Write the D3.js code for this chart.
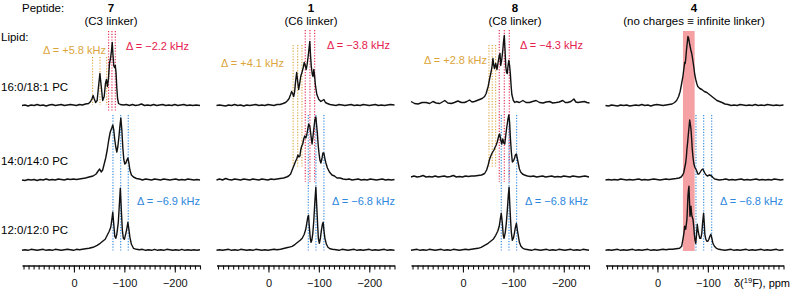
<!DOCTYPE html>
<html>
<head>
<meta charset="utf-8">
<script src="https://cdn.jsdelivr.net/npm/d3@7"></script>
<style>
  body { margin: 0; background: #fff; }
  svg { display: block; font-family: "Liberation Sans", Arial, Helvetica, sans-serif; }
  .tick line { stroke: #111; }
  .domain { stroke: #111; stroke-width: 1.6; }
</style>
</head>
<body>
<div id="chart"></div>
<script>
/* 19F NMR spectra: 4 peptides x 3 lipids */
const width = 792, height = 291;

// ---- data ----
const peptides = ["7", "1", "8", "4"];
const linkers = ["(C3 linker)", "(C6 linker)", "(C8 linker)", "(no charges \u2261 infinite linker)"];
const lipids = ["16:0/18:1 PC", "14:0/14:0 PC", "12:0/12:0 PC"];

// splittings (ppm positions of the dotted lines) and their labels
const orangeLines = [[-37, -51.6, -65], [-49, -58, -66.5], [-51.6, -58.1, -64.9], null];
const redLines = [[-68.8, -75.4, -82], [-73, -82.3, -91.7], [-72, -82, -91.9], null];
const blueLines = [[-77.4, -92.7, -107.7], [-79, -94.2, -110], [-76, -91.3, -106.5], [-76.4, -91.7, -107.6]];
const orangeDelta = ["+5.8", "+4.1", "+2.8", null];
const redDelta = ["\u22122.2", "\u22123.8", "\u22124.3", null];
const blueDelta = ["\u22126.9", "\u22126.8", "\u22126.8", "\u22126.8"];
const bandPpm = [-50.6, -73.8]; // highlighted region, peptide 4

// spectra: [ppm, intensity]
const spec7_a = [[103,0],[97,0.5],[91,-0.5],[85,0.5],[79,0],[73,1],[67,0],[61,0.5],[55,-0.5],[49,0.5],[43,1],[37,0],[31,0.5],[25,1],[19,0],[13,0.5],[7,1],[1,0.5],[-5,0],[-11,1],[-17,0.5],[-23,1.5],[-29,2],[-33,4],[-36,7],[-38,10],[-40,7],[-43,3],[-46,5],[-49,20],[-51.5,32],[-54,20],[-57,5],[-60,9],[-62.5,22],[-64.5,26],[-66.5,19],[-68.5,27],[-70.5,42],[-72.5,47],[-74.5,55],[-76,63],[-77.5,50],[-79,40],[-80.5,38],[-82,40],[-83.5,33],[-85,18],[-86.5,7],[-88.5,2],[-92,1],[-98,0.5],[-104,1],[-110,0],[-116,1],[-122,0],[-128,0.5],[-134,1.5],[-140,0],[-146,0.5],[-152,0],[-158,1],[-164,0],[-170,0.5],[-176,1],[-182,0],[-188,0.5],[-194,0],[-200,1],[-206,0],[-212,0.5],[-218,1],[-224,0],[-230,0.5],[-236,0],[-242,0.5],[-250,0]];
const spec7_b = [[103,0],[97,-0.5],[91,0.5],[85,0],[79,0.5],[73,-0.5],[67,0.5],[61,0],[55,1],[49,0],[43,0.5],[37,0],[31,1],[25,0.5],[19,0],[13,1],[7,0.5],[1,1],[-5,0.5],[-11,1],[-17,1.5],[-23,2],[-30,3],[-38,4],[-44,6],[-48,9],[-51,11],[-54,8],[-57,10],[-60,16],[-63,22],[-66,30],[-69,40],[-72,48],[-75,52],[-77,55],[-79,50],[-81,40],[-83,33],[-85,28],[-87,33],[-89,42],[-91,53],[-93,62],[-95,50],[-97,32],[-99,20],[-101,16],[-103,17],[-105,20],[-107,22],[-109,17],[-111,10],[-114,5],[-118,3],[-124,1.5],[-130,1],[-136,0],[-142,1],[-148,0.5],[-154,0],[-160,1],[-166,0.5],[-172,0],[-178,1],[-184,0.5],[-190,0],[-196,0.5],[-202,1],[-208,0],[-214,0.5],[-220,0],[-226,1],[-232,0.5],[-238,0],[-244,0.5],[-250,0]];
const spec7_c = [[103,0],[97,0.5],[91,0],[85,1],[79,0.5],[73,0],[67,0.5],[61,1],[55,0],[49,0.5],[43,0],[37,1],[31,0.5],[25,0],[19,0.5],[13,1],[7,0.5],[1,0],[-5,1],[-11,0.5],[-17,1],[-23,1.5],[-30,2],[-38,3],[-46,5],[-52,7],[-57,9],[-62,11],[-66,15],[-70,19],[-73,23],[-75,30],[-77,38],[-79,26],[-81,14],[-83,12],[-85,16],[-88,28],[-90,45],[-92,62],[-94,40],[-96,20],[-98,12],[-100,11],[-103,17],[-105,22],[-107,28],[-109,21],[-111,13],[-114,6],[-118,2],[-124,1],[-130,0.5],[-136,1],[-142,0],[-148,0.5],[-154,0],[-160,1],[-166,0],[-172,0.5],[-178,0],[-184,1],[-190,0.5],[-196,0],[-202,0.5],[-208,0],[-214,1],[-220,0],[-226,0.5],[-232,0],[-238,0.5],[-244,0],[-250,0.5]];

const spec1_a = [[103,0],[97,0.5],[91,0],[85,-0.5],[79,0.5],[73,0],[67,1],[61,0],[55,0.5],[49,-0.5],[43,0.5],[37,0],[31,0.5],[25,1],[19,0],[13,0.5],[7,0],[1,1],[-5,0.5],[-11,0],[-17,1],[-23,1],[-29,2],[-34,3],[-38,5],[-41,7],[-44,11],[-46,14],[-48,12],[-50,9],[-52,14],[-54,25],[-56,33],[-58,24],[-60,16],[-62,22],[-64,29],[-67,34],[-69,38],[-71,43],[-73,40],[-75,36],[-77,42],[-79,50],[-80.5,57],[-82,64],[-83.5,50],[-85,39],[-87,31],[-88.5,29],[-90,36],[-91.5,30],[-93,21],[-96,11],[-100,6],[-104,4],[-107,5],[-110,6],[-113,3],[-117,2],[-122,1],[-128,0.5],[-134,0],[-140,1],[-146,0.5],[-152,0],[-158,0.5],[-164,1],[-170,0],[-176,0.5],[-182,0],[-188,1],[-194,0.5],[-200,0],[-206,0.5],[-212,1],[-218,0],[-224,0.5],[-230,0],[-236,0.5],[-242,1],[-250,0.5]];
const spec1_b = [[103,0],[97,1],[91,0],[85,1.5],[79,0.5],[73,0],[67,1],[61,0.5],[55,0],[49,1],[43,0.5],[37,0],[31,1],[25,0.5],[19,0],[13,1],[7,0.5],[1,0],[-5,1],[-11,0.5],[-17,1],[-23,1.5],[-30,2],[-36,3],[-40,4],[-44,6],[-47,10],[-51,15],[-54,19],[-56,21],[-58.5,25],[-60.5,23],[-62.5,24],[-64,30],[-66,34],[-68,36],[-70,41],[-72,44],[-74,42],[-76,45],[-78,51],[-80,56],[-82,54],[-83.5,48],[-85,42],[-86.5,36],[-88,42],[-90,51],[-92,60],[-94,63],[-95.5,55],[-97,47],[-98.5,36],[-100,28],[-102,20],[-104,17],[-106,21],[-108,27],[-110,27],[-112,21],[-114,17],[-117,12],[-121,8],[-126,5],[-131,4],[-136,2],[-142,2],[-148,1],[-154,0.5],[-160,1],[-166,0],[-172,0.5],[-178,1],[-184,0],[-190,0.5],[-196,0],[-202,1],[-208,0.5],[-214,0],[-220,0.5],[-226,1],[-232,0],[-238,0.5],[-244,0],[-250,0.5]];
const spec1_c = [[103,0],[97,0.5],[91,0],[85,0.5],[79,1],[73,0],[67,0.5],[61,0],[55,1],[49,0.5],[43,0],[37,0.5],[31,0],[25,1],[19,0.5],[13,0],[7,0.5],[1,0],[-5,0.5],[-11,1],[-17,0.5],[-24,1],[-32,2],[-40,3],[-47,4],[-53,6],[-58,8],[-63,10],[-67,12],[-71,16],[-74,21],[-76,27],[-78,33],[-79.5,35],[-81,24],[-83,12],[-84.5,8],[-86,10],[-88,17],[-90,30],[-92,48],[-94,63],[-96,42],[-97.5,26],[-99,12],[-101,7],[-103,12],[-105,20],[-107,26],[-108.5,28],[-110,20],[-112,12],[-115,6],[-118,3],[-122,1.5],[-127,1],[-134,0.5],[-140,0],[-146,1],[-152,0.5],[-158,0],[-164,0.5],[-170,1],[-176,0],[-182,0.5],[-188,0],[-194,0.5],[-200,1],[-206,0],[-212,0.5],[-218,0],[-224,0.5],[-230,1],[-236,0],[-242,0.5],[-250,0]];

const spec8_a = [[103,4],[96,2],[89,1.5],[81,3],[73,3],[66,2],[59.5,4],[53,2.5],[46,2],[41,3.5],[36,5],[30,2.5],[23,2],[17,3],[10,4.5],[3,3],[-3,3],[-8,4],[-13,5.5],[-18,3.5],[-23,4],[-28,5],[-33,6],[-38,7],[-43,9],[-46,12],[-50,19],[-53,27],[-56,34],[-58,40],[-59.5,47],[-61,41],[-62.5,37],[-65,42],[-67.5,36],[-70,44],[-72,50],[-73.5,52],[-75,40],[-77,46],[-79,55],[-80.5,64],[-82,70],[-83.5,55],[-85,39],[-86.5,33],[-88,32],[-89.5,40],[-91,45],[-92.5,40],[-94,32],[-95.5,20],[-97,11],[-100,5],[-103,3],[-106,4],[-112,3],[-119,5],[-125,3],[-132,3],[-138,4],[-145,5],[-152,3],[-159,2.5],[-165,3.5],[-172,4],[-178,2.5],[-185,3],[-191,3.5],[-198,5],[-203,3],[-208,3],[-214,4],[-220,6.5],[-224,3.5],[-228,3],[-234,3.5],[-241,4],[-246,3],[-251,2.5]];
const spec8_b = [[103,3],[97,4],[91,3],[85,3.5],[79,4.5],[73,3],[67,3.5],[61,3],[55,4],[49,3],[43,3.5],[37,4],[31,3],[25,3.5],[19,4.5],[13,3],[7,3.5],[1,3],[-5,4],[-11,3.5],[-17,4],[-23,4],[-30,4.5],[-37,5],[-43,6.5],[-47,10],[-50,15],[-53,21],[-56,25],[-59,28],[-61.5,30],[-64,33],[-66,35],[-68,38],[-70,42],[-71.5,45],[-73,46],[-75,40],[-77,36],[-79,41],[-81,37],[-83,36],[-85,45],[-87,53],[-89,60],[-91,65],[-92.5,58],[-94,43],[-96,28],[-98,18],[-100,19],[-102.5,22],[-104,25],[-106,26],[-108,21],[-110,16],[-112,11],[-114.5,8],[-118,6],[-122,5],[-128,4],[-134,3.5],[-140,4],[-146,3],[-152,3.5],[-158,4],[-164,3],[-170,3.5],[-176,4],[-182,3],[-188,3.5],[-194,3],[-200,4],[-206,3.5],[-212,3],[-218,4],[-224,3.5],[-230,3],[-236,3.5],[-242,4],[-250,3]];
const spec8_c = [[103,0],[97,0.5],[91,1],[85,0],[79,0.5],[73,0],[67,1],[61,0.5],[55,0],[49,0.5],[43,1],[37,0],[31,0.5],[25,0],[19,1],[13,0.5],[7,0],[1,0.5],[-5,1],[-11,0.5],[-17,1],[-23,1.5],[-30,2],[-36,3],[-43,5],[-50,7],[-55,9],[-60,11],[-65,15],[-69,19],[-72,24],[-74,31],[-76,37],[-78,28],[-80,15],[-81.5,12],[-84,18],[-86,27],[-88,40],[-90,55],[-91.5,63],[-93,45],[-94.5,30],[-96,18],[-98,10],[-100,12],[-102,17],[-104,23],[-106,27],[-108,20],[-110,14],[-112,8],[-115,4],[-119,2],[-124,1],[-130,0.5],[-136,0],[-142,1],[-148,0.5],[-154,0],[-160,0.5],[-166,1],[-172,0],[-178,0.5],[-184,0],[-190,1],[-196,0.5],[-202,0],[-208,0.5],[-214,1],[-220,0],[-226,0.5],[-232,0],[-238,1],[-244,0.5],[-250,0]];

const spec4_a = [[103,0],[97,-0.5],[91,0.5],[85,0],[79,-0.5],[73,0.5],[67,0],[61,0.5],[55,-0.5],[49,0],[43,0.5],[37,0],[31,1],[25,0],[19,0.5],[13,-0.5],[7,0.5],[1,1],[-5,0.5],[-11,0],[-17,0.5],[-23,1],[-29,1.5],[-34,3],[-38,5],[-42,9],[-45,14],[-48,22],[-50.5,29],[-52.5,37],[-54,43],[-55,42],[-56,46],[-57.5,55],[-59,62],[-60.5,69],[-62,67],[-64,61],[-66,56],[-68,52],[-70,46],[-72,39],[-74,31],[-76,26],[-78,22],[-80,19],[-84,17],[-88,16],[-93,14],[-98,13],[-103,11],[-108,9],[-113,7],[-118,5],[-123,4],[-128,3],[-134,1.5],[-140,1],[-146,0],[-152,0.5],[-158,0],[-164,1],[-170,0.5],[-176,0],[-182,0.5],[-188,0],[-194,1],[-200,0],[-206,0.5],[-212,0],[-218,1],[-224,0.5],[-230,0],[-236,0.5],[-242,0],[-250,0.5]];
const spec4_b = [[103,0],[97,0.5],[91,0],[85,0.5],[79,0],[73,1],[67,0.5],[61,0],[55,0.5],[49,0],[43,0.5],[37,1],[31,0],[25,0.5],[19,0],[13,0.5],[7,1],[1,0.5],[-5,0],[-11,0.5],[-17,1],[-23,0.5],[-30,1],[-37,1.5],[-43,2],[-47,3],[-50,5],[-52,7],[-54,12],[-56,17],[-57.5,24],[-58.5,31],[-60,38],[-61,44],[-62.5,52],[-64,60],[-65.5,55],[-66.5,51],[-68,40],[-69,31],[-70.5,23],[-72,17],[-74,13],[-76,11],[-78,9],[-80,6],[-82.5,6],[-85,8],[-87.5,10],[-90,11],[-92,9],[-94,7],[-96.5,5],[-99,4],[-101,4.5],[-103.5,5],[-105.5,4.5],[-107.5,4],[-110,2.5],[-113.5,1],[-118,0.5],[-123,0],[-130,0.5],[-136,1],[-142,0],[-148,0.5],[-154,0],[-160,0.5],[-166,1],[-172,0],[-178,0.5],[-184,0],[-190,0.5],[-196,1],[-202,0],[-208,0.5],[-214,0],[-220,0.5],[-226,0],[-232,1],[-238,0.5],[-244,0],[-250,0.5]];
const spec4_c = [[103,0],[97,0.5],[91,0],[85,0.5],[79,1],[73,0],[67,0.5],[61,0],[55,0.5],[49,1],[43,0],[37,0.5],[31,0],[25,0.5],[19,1],[13,0],[7,0.5],[1,0],[-5,0.5],[-11,1],[-17,0.5],[-23,1],[-30,1],[-37,1.5],[-44,2],[-48,4],[-50.5,11],[-52.5,17],[-54,24],[-55,22],[-56,21],[-57.5,27],[-58.5,31],[-59.5,42],[-60.5,54],[-61.5,60],[-62.5,64],[-63.5,50],[-64.5,34],[-65.5,38],[-66.5,44],[-67.5,38],[-68.5,34],[-70.5,31],[-72,24],[-73,17],[-74.5,10],[-76,7],[-77.5,15],[-79,26],[-80.5,20],[-82,16],[-84,12],[-86,12],[-88,17],[-89.5,27],[-91.5,37],[-93,26],[-94,16],[-96,11],[-98,9],[-100,9],[-102,11],[-104,14],[-106,16],[-108,12],[-110,7],[-113,4],[-117,2],[-122,1],[-127,0.5],[-134,0],[-140,0.5],[-146,1],[-152,0],[-158,0.5],[-164,0],[-170,0.5],[-176,1],[-182,0],[-188,0.5],[-194,0],[-200,0.5],[-206,1],[-212,0],[-218,0.5],[-224,0],[-230,0.5],[-236,1],[-242,0],[-250,0.5]];

const spectra = [
  [spec7_a, spec7_b, spec7_c],
  [spec1_a, spec1_b, spec1_c],
  [spec8_a, spec8_b, spec8_c],
  [spec4_a, spec4_b, spec4_c]
];

const minorTicks = d3.range(100, -251, -10);
const majorTicks = [[0, -100, -200], [0, -100, -200], [0, -100, -200], [0, -100]];

// ---- layout ----
const panelLeft = [22, 216.5, 411, 605.5], panelW = 178;
const rowBase = [105.5, 180, 250.3];
const axisY = 265.5;
const titleX = [111, 311, 515, 694];
const orangeY = [[57, 105], [45, 168], [45, 168]];
const redY = [[31, 112], [30, 182], [30, 182]];
const blueY = [115, 251];
const orangeLab = [[106, 54], [284, 67], [487, 64]];
const redLab = [[126, 50], [327, 49], [520, 49]];
const blueLab = [137, 332, 525, 720];
const ORANGE = "#dca53c", RED = "#e5204d", BLUE = "#2d87dd", BAND = "#f5a1a4";

const svg = d3.select("#chart")
  .append("svg")
  .attr("width", width)
  .attr("height", height)
  .attr("viewBox", [0, 0, width, height]);

const fs = 11.5;

// header labels
svg.append("text").attr("x", 22).attr("y", 12).attr("font-size", fs).text("Peptide:");
svg.append("text").attr("x", 1).attr("y", 41).attr("font-size", fs).text("Lipid:");
const rowLabY = [91, 165, 233.5];
lipids.forEach((l, i) => {
  svg.append("text").attr("x", 1).attr("y", rowLabY[i]).attr("font-size", fs).text(l);
});

let y = d3.scaleLinear().domain([0, 1]).range([0, -1]); // intensity -> px offset above baseline

peptides.forEach((p, pi) => {
  const x = d3.scaleLinear().domain([103, -250]).range([panelLeft[pi], panelLeft[pi] + panelW]);
  const g = svg.append("g");

  g.append("text").attr("x", titleX[pi]).attr("y", 12).attr("text-anchor", "middle")
    .attr("font-size", fs).attr("font-weight", "bold").text(p);
  g.append("text").attr("x", titleX[pi]).attr("y", 25).attr("text-anchor", "middle")
    .attr("font-size", fs).text(linkers[pi]);

  // highlighted band (peptide 4 only)
  if (pi === 3) {
    g.append("rect")
      .attr("x", x(bandPpm[0])).attr("width", x(bandPpm[1]) - x(bandPpm[0]))
      .attr("y", 31).attr("height", 220)
      .attr("fill", BAND);
  }

  const dotted = (vals, yr, col) => {
    g.selectAll(null).data(vals).join("line")
      .attr("x1", d => x(d)).attr("x2", d => x(d))
      .attr("y1", yr[0]).attr("y2", yr[1])
      .attr("stroke", col).attr("stroke-width", 1.1)
      .attr("stroke-dasharray", "1.2,1.6");
  };
  if (orangeLines[pi]) dotted(orangeLines[pi], orangeY[pi], ORANGE);
  if (redLines[pi]) dotted(redLines[pi], redY[pi], RED);
  dotted(blueLines[pi], blueY, BLUE);

  if (orangeDelta[pi]) {
    g.append("text").attr("x", orangeLab[pi][0]).attr("y", orangeLab[pi][1])
      .attr("text-anchor", "end").attr("font-size", 11).attr("fill", ORANGE)
      .text(`\u0394 = ${orangeDelta[pi]} kHz`);
  }
  if (redDelta[pi]) {
    g.append("text").attr("x", redLab[pi][0]).attr("y", redLab[pi][1])
      .attr("font-size", 11).attr("fill", RED)
      .text(`\u0394 = ${redDelta[pi]} kHz`);
  }
  g.append("text").attr("x", blueLab[pi]).attr("y", 204.5)
    .attr("font-size", 11).attr("fill", BLUE)
    .text(`\u0394 = ${blueDelta[pi]} kHz`);

  // spectra
  spectra[pi].forEach((s, ri) => {
    const line = d3.line()
      .x(d => x(d[0]))
      .y(d => rowBase[ri] + y(d[1]));
    g.append("path")
      .datum(s)
      .attr("d", line)
      .attr("fill", "none")
      .attr("stroke", "#111")
      .attr("stroke-width", 1.4)
      .attr("stroke-linejoin", "round");
  });

  // axis: minor ticks, then major ticks with labels
  g.append("g")
    .attr("transform", `translate(0,${axisY})`)
    .call(d3.axisBottom(x).tickValues(minorTicks).tickSize(4).tickSizeOuter(0).tickFormat(""))
    .call(a => a.selectAll(".tick line").attr("stroke-width", 1.1));
  g.append("g")
    .attr("transform", `translate(0,${axisY})`)
    .call(d3.axisBottom(x).tickValues(majorTicks[pi]).tickSize(7).tickSizeOuter(0))
    .call(a => a.select(".domain").remove())
    .call(a => a.selectAll(".tick line").attr("stroke-width", 1.1))
    .call(a => a.selectAll("text")
      .attr("y", 21.5).attr("dy", null)
      .attr("font-size", 11)
      .attr("font-family", "Liberation Sans, Arial, sans-serif")
      .attr("fill", "#111"));
});

// x-axis title
const xt = svg.append("text").attr("x", 734).attr("y", 287).attr("font-size", 11);
xt.append("tspan").text("\u03b4(");
xt.append("tspan").attr("font-size", 7.5).attr("dy", -4).text("19");
xt.append("tspan").attr("dy", 4).text("F), ppm");
</script>
</body>
</html>
